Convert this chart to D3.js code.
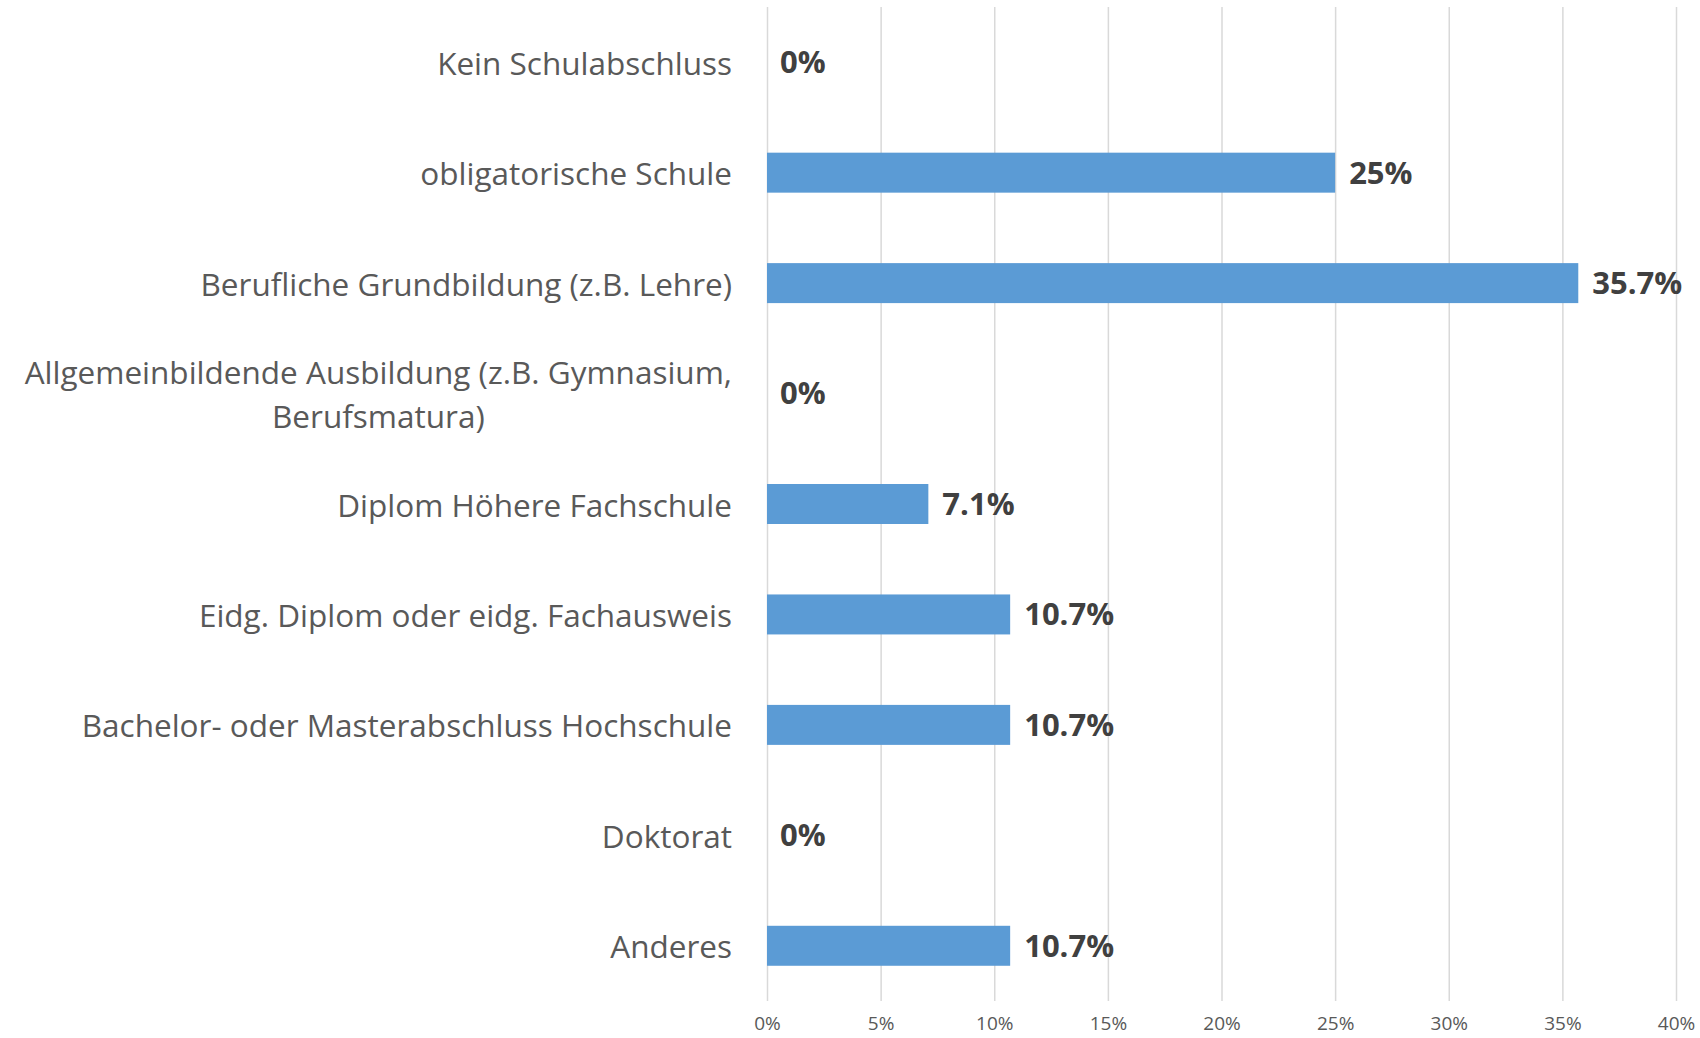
<!DOCTYPE html>
<html>
<head>
<meta charset="utf-8">
<script src="https://cdn.jsdelivr.net/npm/d3@7"></script>
<style>
  body { margin: 0; background: #fff; }
  text { font-family: 'Open Sans', sans-serif; }
</style>
</head>
<body>
<div id="chart"></div>
<script>
const categories = [
  'Kein Schulabschluss',
  'obligatorische Schule',
  'Berufliche Grundbildung (z.B. Lehre)',
  'Allgemeinbildende Ausbildung (z.B. Gymnasium,\nBerufsmatura)',
  'Diplom Höhere Fachschule',
  'Eidg. Diplom oder eidg. Fachausweis',
  'Bachelor- oder Masterabschluss Hochschule',
  'Doktorat',
  'Anderes',
]
const values = [0, 25, 35.7, 0, 7.1, 10.7, 10.7, 0, 10.7]
const ticks = [0, 5, 10, 15, 20, 25, 30, 35, 40]

const data = categories.map((c, i) => ({ category: c, value: values[i] }))

const W = 1700
const H = 1038
const margin = { left: 767, right: 24, top: 7, bottom: 37 }
const width = W - margin.left - margin.right
const height = H - margin.top - margin.bottom

const svg = d3.select('#chart')
  .append('svg')
  .attr('width', W)
  .attr('height', H)

const g = svg.append('g')
  .attr('transform', `translate(${margin.left}, ${margin.top})`)

const x = d3.scaleLinear()
  .domain([0, 40])
  .range([0, width])

const y = d3.scaleBand()
  .domain(categories)
  .range([0, height])
  .paddingInner(0.638)
  .paddingOuter(0.319)

// gridlines + tick labels
const xAxis = g.append('g')
  .attr('transform', `translate(0, ${height})`)
  .call(d3.axisBottom(x)
    .tickValues(ticks)
    .tickSize(-height)
    .tickPadding(16)
    .tickFormat(d => `${d}%`))

xAxis.select('.domain').remove()
xAxis.selectAll('line')
  .attr('stroke', '#d9d9d9')
  .attr('stroke-width', 1.5)
xAxis.selectAll('text')
  .attr('fill', '#595959')
  .attr('font-size', '19px')
  .attr('font-family', "'Open Sans', sans-serif")

// bars
g.selectAll('rect.bar')
  .data(data)
  .enter()
  .append('rect')
    .attr('class', 'bar')
    .attr('x', x(0))
    .attr('y', d => y(d.category))
    .attr('width', d => x(d.value) - x(0))
    .attr('height', y.bandwidth())
    .attr('fill', '#5b9bd5')

// value labels
g.selectAll('text.value')
  .data(data)
  .enter()
  .append('text')
    .attr('class', 'value')
    .attr('x', d => x(d.value) + (d.value > 0 ? 14 : 13))
    .attr('y', d => y(d.category) + y.bandwidth() / 2)
    .attr('dy', '0.35em')
    .attr('fill', '#404040')
    .attr('font-weight', 'bold')
    .attr('font-size', '31px')
    .text(d => `${d.value}%`)

// category labels
const lineH = 43.4
const labels = g.selectAll('text.cat')
  .data(data)
  .enter()
  .append('text')
    .attr('class', 'cat')
    .attr('fill', '#595959')
    .attr('font-size', '31.5px')
    .attr('y', d => y(d.category) + y.bandwidth() / 2)

labels.each(function (d) {
  const lines = d.category.split('\n')
  const t = d3.select(this)
  const spans = lines.map((line, i) => t.append('tspan')
    .attr('dy', i === 0 ? `${-(lines.length - 1) * lineH / 2}px` : `${lineH}px`)
    .attr('dominant-baseline', 'central')
    .text(line))
  // right-align the block, centre the lines within it
  const widths = spans.map(s => s.node().getComputedTextLength())
  const maxW = d3.max(widths)
  const right = -35
  spans.forEach((s, i) => s.attr('x', right - maxW + (maxW - widths[i]) / 2))
})
</script>
</body>
</html>
